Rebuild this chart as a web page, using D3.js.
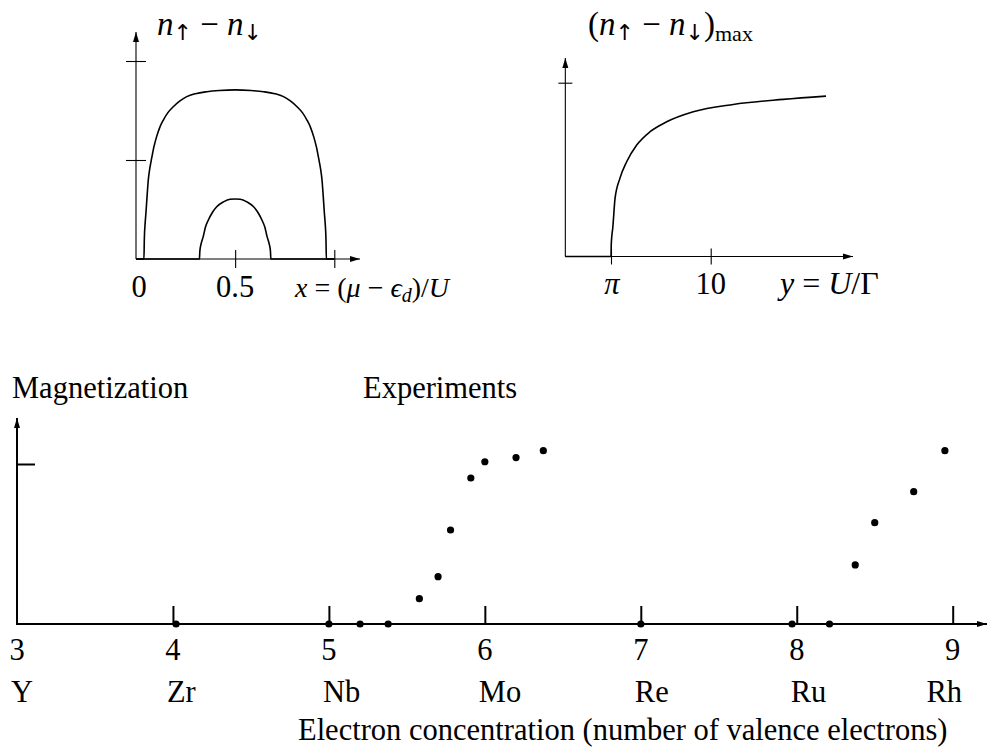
<!DOCTYPE html>
<html><head><meta charset="utf-8">
<script src="https://cdn.jsdelivr.net/npm/d3@7"></script>
<style>
body{margin:0;background:#fff}
svg text{font-family:"Liberation Serif","Times New Roman",serif;fill:#000}
svg tspan.arr{font-family:"DejaVu Sans",sans-serif;fill:#000}
</style>
</head><body>
<svg id="c" width="987" height="753"></svg>
<script>
// ---------- DATA ----------
// Top-left panel: magnetisation vs x=(mu-eps_d)/U for two values of U/Gamma
const tlX      = [0, 0.040, 0.042, 0.046, 0.050, 0.056, 0.062, 0.070, 0.079, 0.090, 0.104, 0.120, 0.138, 0.160, 0.188, 0.220, 0.256, 0.300, 0.357, 0.420, 0.500,
                  0.580, 0.643, 0.700, 0.744, 0.780, 0.812, 0.840, 0.862, 0.880, 0.896, 0.910, 0.921, 0.930, 0.938, 0.944, 0.950, 0.954, 0.958, 0.960, 1.0];
const tlOuter  = [0, 0, 0.10, 0.18, 0.231, 0.32, 0.399, 0.46, 0.509, 0.565, 0.618, 0.665, 0.702, 0.738, 0.769, 0.797, 0.820, 0.835, 0.845, 0.851, 0.854,
                  0.851, 0.845, 0.835, 0.820, 0.797, 0.769, 0.738, 0.702, 0.665, 0.618, 0.565, 0.509, 0.46, 0.399, 0.32, 0.231, 0.18, 0.10, 0, 0];
const tlXi     = [0, 0.320, 0.322, 0.328, 0.339, 0.350, 0.365, 0.385, 0.407, 0.440, 0.474, 0.500, 0.526, 0.560, 0.593, 0.615, 0.635, 0.650, 0.661, 0.672, 0.678, 0.680, 1.0];
const tlInner  = [0, 0, 0.04, 0.075, 0.113, 0.16, 0.197, 0.235, 0.264, 0.288, 0.302, 0.303, 0.302, 0.288, 0.264, 0.235, 0.197, 0.16, 0.113, 0.075, 0.04, 0, 0];
const tlXTicks = [0.5, 1.0];
const tlYTicks = [0.5, 1.0];
const tlXTickLabels = [{v: 0, t: "0"}, {v: 0.5, t: "0.5"}];

// Top-right panel: maximal magnetisation vs y = U/Gamma
const trX   = [0, 3.1416, 3.16, 3.19, 3.26, 3.42, 3.76, 4.22, 4.91, 5.83, 6.97, 8.80, 11.55, 14.99, 17.93];
const trVal = [0, 0, 0.07, 0.11, 0.162, 0.334, 0.451, 0.545, 0.641, 0.718, 0.775, 0.833, 0.875, 0.904, 0.923];
const trXTicks = [Math.PI, 10];
const trYTicks = [1];

// Bottom panel: experimental magnetisation vs electron concentration
const expX = [4.02, 5.00, 5.20, 5.38, 5.58, 5.70, 5.78, 5.91, 6.00, 6.20, 6.375, 7.00, 7.97, 8.21, 8.375, 8.50, 8.75, 8.95];
const expY = [0, 0, 0, 0, 0.158, 0.296, 0.5875, 0.9125, 1.014, 1.04, 1.083, 0, 0, 0, 0.369, 0.633, 0.827, 1.083];
const concTicks = [3, 4, 5, 6, 7, 8, 9];
const elements  = ["Y", "Zr", "Nb", "Mo", "Re", "Ru", "Rh"];
const magTicks  = [1];

// ---------- DRAWING ----------
const svg = d3.select("#c");
const FS = 30.5;

function arrowHead(g, x, y, dir) {
  const L = 10, W = 3;
  let pts;
  if (dir === "right") pts = [[x, y], [x - L, y - W], [x - L, y + W]];
  else pts = [[x, y], [x - W, y + L], [x + W, y + L]];
  g.append("path").attr("d", d3.line()(pts) + "Z").attr("fill", "#000");
}

function spinDiff(t, sub) {
  t.append("tspan").attr("font-style", "italic").text("n");
  t.append("tspan").attr("class", "arr").attr("font-size", sub).attr("dy", 5).text("↑");
  t.append("tspan").attr("dy", -5).text(" − ");
  t.append("tspan").attr("font-style", "italic").text("n");
  t.append("tspan").attr("class", "arr").attr("font-size", sub).attr("dy", 5).text("↓");
}

// ===== Top-left =====
{
  const g = svg.append("g");
  const x = d3.scaleLinear().domain([0, 1]).range([136, 334.3]);
  const y = d3.scaleLinear().domain([0, 1]).range([259, 61]);
  const xEnd = 360, yTop = 32;
  g.append("line").attr("x1", x(0)).attr("x2", xEnd).attr("y1", y(0)).attr("y2", y(0)).attr("stroke", "#000").attr("stroke-width", 1.1);
  g.append("line").attr("x1", x(0)).attr("x2", x(0)).attr("y1", y(0)).attr("y2", yTop).attr("stroke", "#000").attr("stroke-width", 1.1);
  arrowHead(g, xEnd, y(0), "right");
  arrowHead(g, x(0), yTop, "up");
  const ax = g.append("g").attr("transform", `translate(0,${y(0)})`)
    .call(d3.axisBottom(x).tickValues(tlXTicks).tickSize(9).tickFormat(""));
  ax.select(".domain").remove();
  ax.selectAll(".tick line").attr("y1", -9).attr("stroke-width", 1.1);
  const ay = g.append("g").attr("transform", `translate(${x(0)},0)`)
    .call(d3.axisLeft(y).tickValues(tlYTicks).tickSize(10).tickFormat(""));
  ay.select(".domain").remove();
  ay.selectAll(".tick line").attr("x1", 10).attr("stroke-width", 1.1);
  const line = d3.line().curve(d3.curveMonotoneX);
  g.append("path").attr("d", line(tlX.map((v, i) => [x(v), y(tlOuter[i])])))
    .attr("fill", "none").attr("stroke", "#000").attr("stroke-width", 1.6);
  g.append("path").attr("d", line(tlXi.map((v, i) => [x(v), y(tlInner[i])])))
    .attr("fill", "none").attr("stroke", "#000").attr("stroke-width", 1.6);
  tlXTickLabels.forEach(d => {
    g.append("text").attr("x", x(d.v) + (d.v === 0 ? 3 : 0)).attr("y", 297).attr("text-anchor", "middle")
      .attr("font-size", FS).text(d.t);
  });
  const t = g.append("text").attr("x", 157).attr("y", 35).attr("font-size", 33);
  spinDiff(t, 22);
  const t2 = g.append("text").attr("x", 295).attr("y", 297).attr("font-size", 28);
  t2.append("tspan").attr("font-style", "italic").text("x");
  t2.append("tspan").text(" = (");
  t2.append("tspan").attr("font-style", "italic").text("μ");
  t2.append("tspan").text(" − ");
  t2.append("tspan").attr("font-style", "italic").text("ϵ");
  t2.append("tspan").attr("font-style", "italic").attr("font-size", 20).attr("dy", 5).text("d");
  t2.append("tspan").attr("dy", -5).text(")/");
  t2.append("tspan").attr("font-style", "italic").text("U");
}

// ===== Top-right =====
{
  const g = svg.append("g");
  const x = d3.scaleLinear().domain([Math.PI, 10]).range([611, 710.7]);
  const y = d3.scaleLinear().domain([0, 1]).range([256.5, 82.7]);
  const xEnd = 853, yTop = 58;
  g.append("line").attr("x1", x(0)).attr("x2", xEnd).attr("y1", y(0)).attr("y2", y(0)).attr("stroke", "#000").attr("stroke-width", 1.1);
  g.append("line").attr("x1", x(0)).attr("x2", x(0)).attr("y1", y(0)).attr("y2", yTop).attr("stroke", "#000").attr("stroke-width", 1.1);
  arrowHead(g, xEnd, y(0), "right");
  arrowHead(g, x(0), yTop, "up");
  const ax = g.append("g").attr("transform", `translate(0,${y(0)})`)
    .call(d3.axisBottom(x).tickValues(trXTicks).tickSize(8).tickFormat(""));
  ax.select(".domain").remove();
  ax.selectAll(".tick line").attr("y1", -8).attr("stroke-width", 1.1);
  const ay = g.append("g").attr("transform", `translate(${x(0)},0)`)
    .call(d3.axisLeft(y).tickValues(trYTicks).tickSize(7).tickFormat(""));
  ay.select(".domain").remove();
  ay.selectAll(".tick line").attr("x1", 7).attr("stroke-width", 1.1);
  const line = d3.line().curve(d3.curveMonotoneX);
  g.append("path").attr("d", line(trX.map((v, i) => [x(v), y(trVal[i])])))
    .attr("fill", "none").attr("stroke", "#000").attr("stroke-width", 1.6);
  g.append("text").attr("x", x(Math.PI) + 1).attr("y", 294).attr("text-anchor", "middle")
    .attr("font-size", FS).attr("font-style", "italic").text("π");
  g.append("text").attr("x", x(10)).attr("y", 294).attr("text-anchor", "middle")
    .attr("font-size", FS).text("10");
  const t = g.append("text").attr("x", 780).attr("y", 294).attr("font-size", 32);
  t.append("tspan").attr("font-style", "italic").text("y");
  t.append("tspan").text(" = ");
  t.append("tspan").attr("font-style", "italic").text("U");
  t.append("tspan").text("/Γ");
  const t2 = g.append("text").attr("x", 588).attr("y", 35).attr("font-size", 33);
  t2.append("tspan").text("(");
  spinDiff(t2, 22);
  t2.append("tspan").attr("dy", -5).text(")");
  t2.append("tspan").attr("font-size", 22).attr("dy", 6).text("max");
}

// ===== Bottom =====
{
  const g = svg.append("g");
  const x = d3.scaleLinear().domain([3, 9]).range([17, 952.7]);
  const y = d3.scaleLinear().domain([0, 1]).range([624, 464]);
  const xEnd = 987, yTop = 418;
  g.append("line").attr("x1", x(3)).attr("x2", xEnd).attr("y1", y(0)).attr("y2", y(0)).attr("stroke", "#000").attr("stroke-width", 2);
  g.append("line").attr("x1", x(3)).attr("x2", x(3)).attr("y1", y(0) + 1).attr("y2", yTop).attr("stroke", "#000").attr("stroke-width", 2);
  arrowHead(g, xEnd, y(0), "right");
  arrowHead(g, x(3), yTop, "up");
  const ax = g.append("g").attr("transform", `translate(0,${y(0)})`)
    .call(d3.axisTop(x).tickValues(concTicks.slice(1)).tickSize(18).tickFormat(""));
  ax.select(".domain").remove();
  ax.selectAll(".tick line").attr("stroke-width", 2);
  const ay = g.append("g").attr("transform", `translate(${x(3)},0)`)
    .call(d3.axisRight(y).tickValues(magTicks).tickSize(18).tickFormat(""));
  ay.select(".domain").remove();
  ay.selectAll(".tick line").attr("stroke-width", 2);
  g.selectAll("circle.dot").data(expX).enter().append("circle").attr("class", "dot")
    .attr("cx", d => x(d)).attr("cy", (d, i) => y(expY[i])).attr("r", 3.6).attr("fill", "#000");
  g.selectAll("text.num").data(concTicks).enter().append("text").attr("class", "num")
    .attr("x", d => x(d)).attr("y", 660).attr("text-anchor", "middle").attr("font-size", FS).text(d => d);
  g.selectAll("text.el").data(elements).enter().append("text").attr("class", "el")
    .attr("x", (d, i) => x(concTicks[i]) - 6).attr("y", 702).attr("font-size", FS).text(d => d)
    .each(function () {
      const len = this.getComputedTextLength();
      const xx = +this.getAttribute("x");
      if (xx + len > 962) this.setAttribute("x", 962 - len);
    });
  g.append("text").attr("x", 12).attr("y", 398).attr("font-size", FS).text("Magnetization");
  g.append("text").attr("x", 363).attr("y", 398).attr("font-size", FS).text("Experiments");
  g.append("text").attr("x", 298).attr("y", 740).attr("font-size", FS).text("Electron concentration (number of valence electrons)");
}
</script>
</body></html>
